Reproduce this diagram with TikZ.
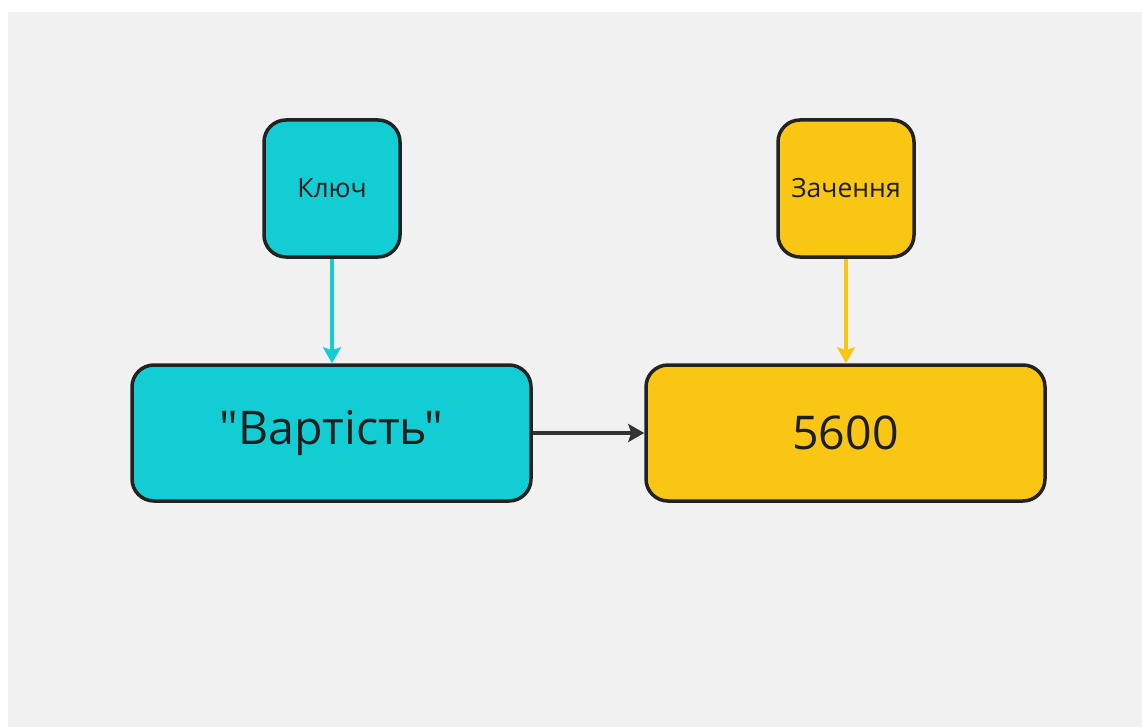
\documentclass[tikz,border=0pt]{standalone}
\usepackage{fontspec}
\setmainfont{Open Sans}[Ligatures=TeXOff]
\usetikzlibrary{arrows.meta}
\definecolor{bgcol}{HTML}{F1F1F1}
\definecolor{cyanbox}{HTML}{12CDD4}
\definecolor{yellowbox}{HTML}{F9C713}
\definecolor{edgecol}{HTML}{222222}
\definecolor{textcol}{HTML}{1E1E1E}
\definecolor{arrowdark}{HTML}{333333}
\tikzset{
  smallbox/.style={draw=edgecol, line width=3.5pt, rounded corners=22pt, minimum width=136pt, minimum height=137pt, inner sep=0pt, text=textcol, font=\fontsize{26.5}{30}\selectfont},
  bigbox/.style={draw=edgecol, line width=3.5pt, rounded corners=22pt, minimum width=399pt, minimum height=136pt, inner sep=0pt, text=textcol, font=\fontsize{46.5}{54}\selectfont},
  conn/.style={line width=3.5pt, -{Stealth[length=16pt,width=18pt,inset=3pt]}}
}
\begin{document}
\begin{tikzpicture}[x=1pt,y=-1pt]
\useasboundingbox (0,0) rectangle (1142,727);
\fill[white] (0,0) rectangle (1142,727);
\fill[bgcol] (8,12) rectangle (1142,727);
\node[smallbox, fill=cyanbox] (key) at (332,188.5) {Ключ};
\node[smallbox, fill=yellowbox] (val) at (846,188.5) {Зачення};
\node[bigbox, fill=cyanbox] (kbig) at (331.5,433) {"Вартість"};
\node[bigbox, fill=yellowbox] (vbig) at (845.5,433) {5600};
\draw[conn, draw=cyanbox, fill=cyanbox] (key.south) -- (kbig.north -| key.south);
\draw[conn, draw=yellowbox, fill=yellowbox] (val.south) -- (vbig.north -| val.south);
\draw[conn, draw=arrowdark, fill=arrowdark] (kbig.east) -- (vbig.west);
\end{tikzpicture}
\end{document}
